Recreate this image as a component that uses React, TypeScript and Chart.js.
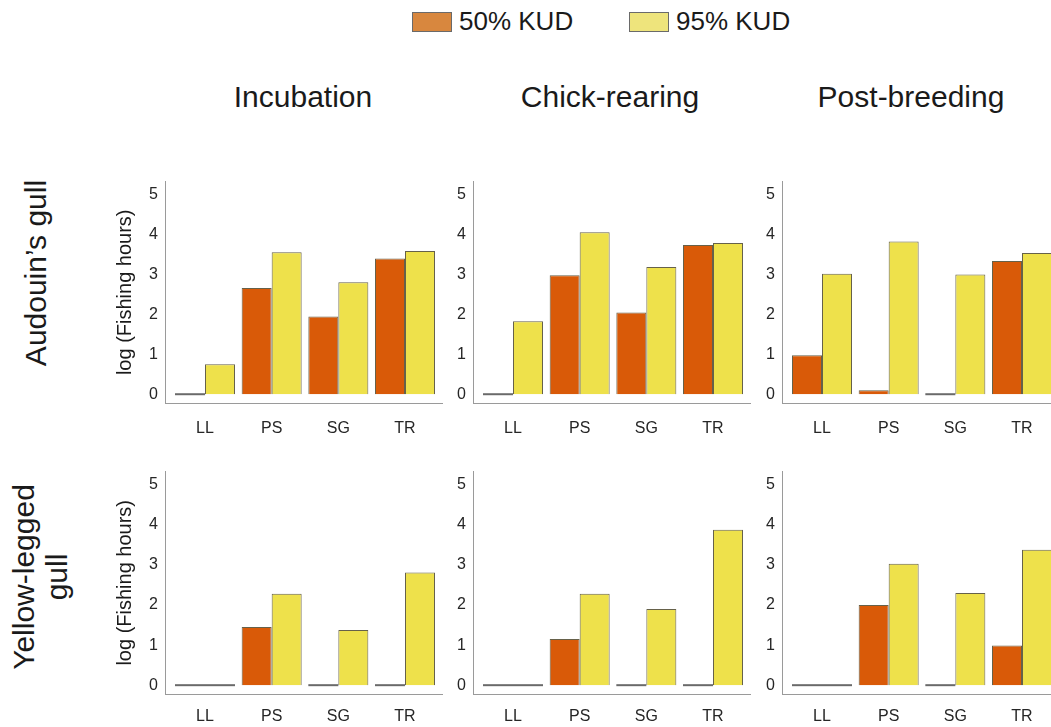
import React, { useEffect, useRef } from "react";
import { Chart, registerables } from "chart.js";

Chart.register(...registerables);

// ---------- data ----------
const categories = ["LL", "PS", "SG", "TR"];
const seasons = ["Incubation", "Chick-rearing", "Post-breeding"];
const seriesNames = ["50% KUD", "95% KUD"];
const yTicks = [0, 1, 2, 3, 4, 5];
const yAxisTitle = "log (Fishing hours)";

// Audouin's gull
const audIncub50 = [0, 2.66, 1.95, 3.4];
const audIncub95 = [0.75, 3.56, 2.81, 3.59];
const audChick50 = [0, 2.98, 2.05, 3.74];
const audChick95 = [1.83, 4.06, 3.19, 3.79];
const audPost50 = [0.98, 0.1, 0, 3.34];
const audPost95 = [3.02, 3.83, 3.0, 3.54];

// Yellow-legged gull
const ylgIncub50 = [0, 1.45, 0, 0];
const ylgIncub95 = [0, 2.28, 1.38, 2.81];
const ylgChick50 = [0, 1.15, 0, 0];
const ylgChick95 = [0, 2.28, 1.9, 3.88];
const ylgPost50 = [0, 2.0, 0, 0.99];
const ylgPost95 = [0, 3.03, 2.3, 3.38];

// ---------- style ----------
const FONT = '"Liberation Sans", Arial, Helvetica, sans-serif';
const ORANGE = "#D95A08";
const YELLOW = "#EEE14B";
const BAR_BORDER = "#66614a";
const LEG_ORANGE = "#D8873E";
const LEG_YELLOW = "#EEE47C";
const AXIS = "#9a9a9a";
const ZERO_LINE = "#6a6a6a";
const TICK_COLOR = "#262626";
const TEXT = "#1a1a1a";

const zeroLinePlugin = {
  id: "zeroLines",
  afterDatasetsDraw(chart: any) {
    const ctx = chart.ctx;
    chart.data.datasets.forEach((ds: any, di: number) => {
      const meta = chart.getDatasetMeta(di);
      meta.data.forEach((el: any, i: number) => {
        if (ds.data[i] === 0) {
          const { x, y, width } = el.getProps(["x", "y", "width"], true);
          ctx.save();
          ctx.strokeStyle = ZERO_LINE;
          ctx.lineWidth = 2;
          ctx.beginPath();
          ctx.moveTo(x - width / 2, y);
          ctx.lineTo(x + width / 2, y);
          ctx.stroke();
          ctx.restore();
        }
      });
    });
  },
};

type PanelProps = {
  v50: number[];
  v95: number[];
  left: number;
  top: number;
  yAxisWidth: number;
  showTitle: boolean;
  xPad: number;
  height: number;
};

function Panel({ v50, v95, left, top, yAxisWidth, showTitle, xPad, height }: PanelProps) {
  const ref = useRef<HTMLCanvasElement>(null);
  const width = yAxisWidth + 278;
  useEffect(() => {
    const chart = new Chart(ref.current as HTMLCanvasElement, {
      type: "bar",
      data: {
        labels: categories.map((_, i) => i),
        datasets: [
          {
            label: seriesNames[0],
            data: v50,
            backgroundColor: ORANGE,
            borderColor: BAR_BORDER,
            borderWidth: 1,
            categoryPercentage: 0.9,
            barPercentage: 1,
          },
          {
            label: seriesNames[1],
            data: v95,
            backgroundColor: YELLOW,
            borderColor: BAR_BORDER,
            borderWidth: 1,
            categoryPercentage: 0.9,
            barPercentage: 1,
          },
        ],
      } as any,
      options: {
        animation: false,
        responsive: false,
        maintainAspectRatio: false,
        layout: { padding: { top: 10, left: 0, right: 0, bottom: 0 } },
        plugins: { legend: { display: false }, tooltip: { enabled: false } },
        scales: {
          x: {
            type: "linear",
            min: -0.6,
            max: 3.57,
            offset: false,
            grid: { display: false, drawTicks: false },
            border: { display: true, color: AXIS, width: 1 },
            ticks: {
              autoSkip: false,
              maxRotation: 0,
              padding: xPad,
              color: TICK_COLOR,
              font: { family: FONT, size: 16 },
              callback: (v: any) => categories[v] ?? "",
            },
            afterBuildTicks: (s: any) => {
              s.ticks = categories.map((_, i) => ({ value: i }));
            },
            afterFit: (s: any) => {
              s.height = 40;
            },
          },
          y: {
            type: "linear",
            min: -0.22,
            max: 5.33,
            grid: { display: false, drawTicks: false },
            border: { display: true, color: AXIS, width: 1 },
            ticks: {
              padding: 7,
              color: TICK_COLOR,
              font: { family: FONT, size: 16 },
            },
            afterBuildTicks: (s: any) => {
              s.ticks = yTicks.map((v) => ({ value: v }));
            },
            afterFit: (s: any) => {
              s.width = yAxisWidth;
            },
            title: {
              display: showTitle,
              text: yAxisTitle,
              color: TEXT,
              font: { family: FONT, size: 20 },
              padding: { top: 13, bottom: 0 },
            },
          },
        },
      } as any,
      plugins: [zeroLinePlugin],
    });
    return () => chart.destroy();
  }, []);
  return (
    <canvas
      ref={ref}
      width={width}
      height={height}
      style={{ position: "absolute", left, top, width, height }}
    />
  );
}

const textAbs = (extra: React.CSSProperties): React.CSSProperties => ({
  position: "absolute",
  whiteSpace: "nowrap",
  fontFamily: FONT,
  color: TEXT,
  ...extra,
});

export default function App() {
  const colLeft = [100, 440, 750];
  const colYW = [65, 33, 32];
  const colTitleX = [303, 610, 911];
  const rows = [
    { top: 165, height: 278, xPad: 16, data: [[audIncub50, audIncub95], [audChick50, audChick95], [audPost50, audPost95]] },
    { top: 455, height: 279, xPad: 13, data: [[ylgIncub50, ylgIncub95], [ylgChick50, ylgChick95], [ylgPost50, ylgPost95]] },
  ];
  return (
    <div
      style={{
        position: "fixed",
        left: 0,
        top: 0,
        width: 1051,
        height: 727,
        overflow: "hidden",
        background: "#fff",
        fontFamily: FONT,
      }}
    >
      {/* legend */}
      <div style={{ position: "absolute", left: 412, top: 12, width: 40, height: 20, background: LEG_ORANGE, border: "1px solid #6a6a6a", boxSizing: "border-box" }} />
      <div style={textAbs({ left: 459, top: 8, fontSize: 26, lineHeight: "26px" })}>{seriesNames[0]}</div>
      <div style={{ position: "absolute", left: 629, top: 12, width: 40, height: 20, background: LEG_YELLOW, border: "1px solid #6a6a6a", boxSizing: "border-box" }} />
      <div style={textAbs({ left: 676, top: 8, fontSize: 26, lineHeight: "26px" })}>{seriesNames[1]}</div>

      {/* column titles */}
      {seasons.map((s, i) => (
        <div key={s} style={textAbs({ left: colTitleX[i], top: 82, fontSize: 30, lineHeight: "30px", transform: "translateX(-50%)" })}>
          {s}
        </div>
      ))}

      {/* row labels */}
      <div style={textAbs({ left: 36, top: 273, fontSize: 30, lineHeight: "30px", transform: "translate(-50%, -50%) rotate(-90deg)" })}>
        Audouin’s gull
      </div>
      <div style={textAbs({ left: 40, top: 577, fontSize: 30, lineHeight: "33px", textAlign: "center", transform: "translate(-50%, -50%) rotate(-90deg)" })}>
        Yellow-legged
        <br />
        gull
      </div>

      {/* panels */}
      {rows.map((r, ri) =>
        r.data.map((d, ci) => (
          <Panel
            key={`${ri}-${ci}`}
            v50={d[0]}
            v95={d[1]}
            left={colLeft[ci]}
            top={r.top}
            yAxisWidth={colYW[ci]}
            showTitle={ci === 0}
            xPad={r.xPad}
            height={r.height}
          />
        ))
      )}
    </div>
  );
}
